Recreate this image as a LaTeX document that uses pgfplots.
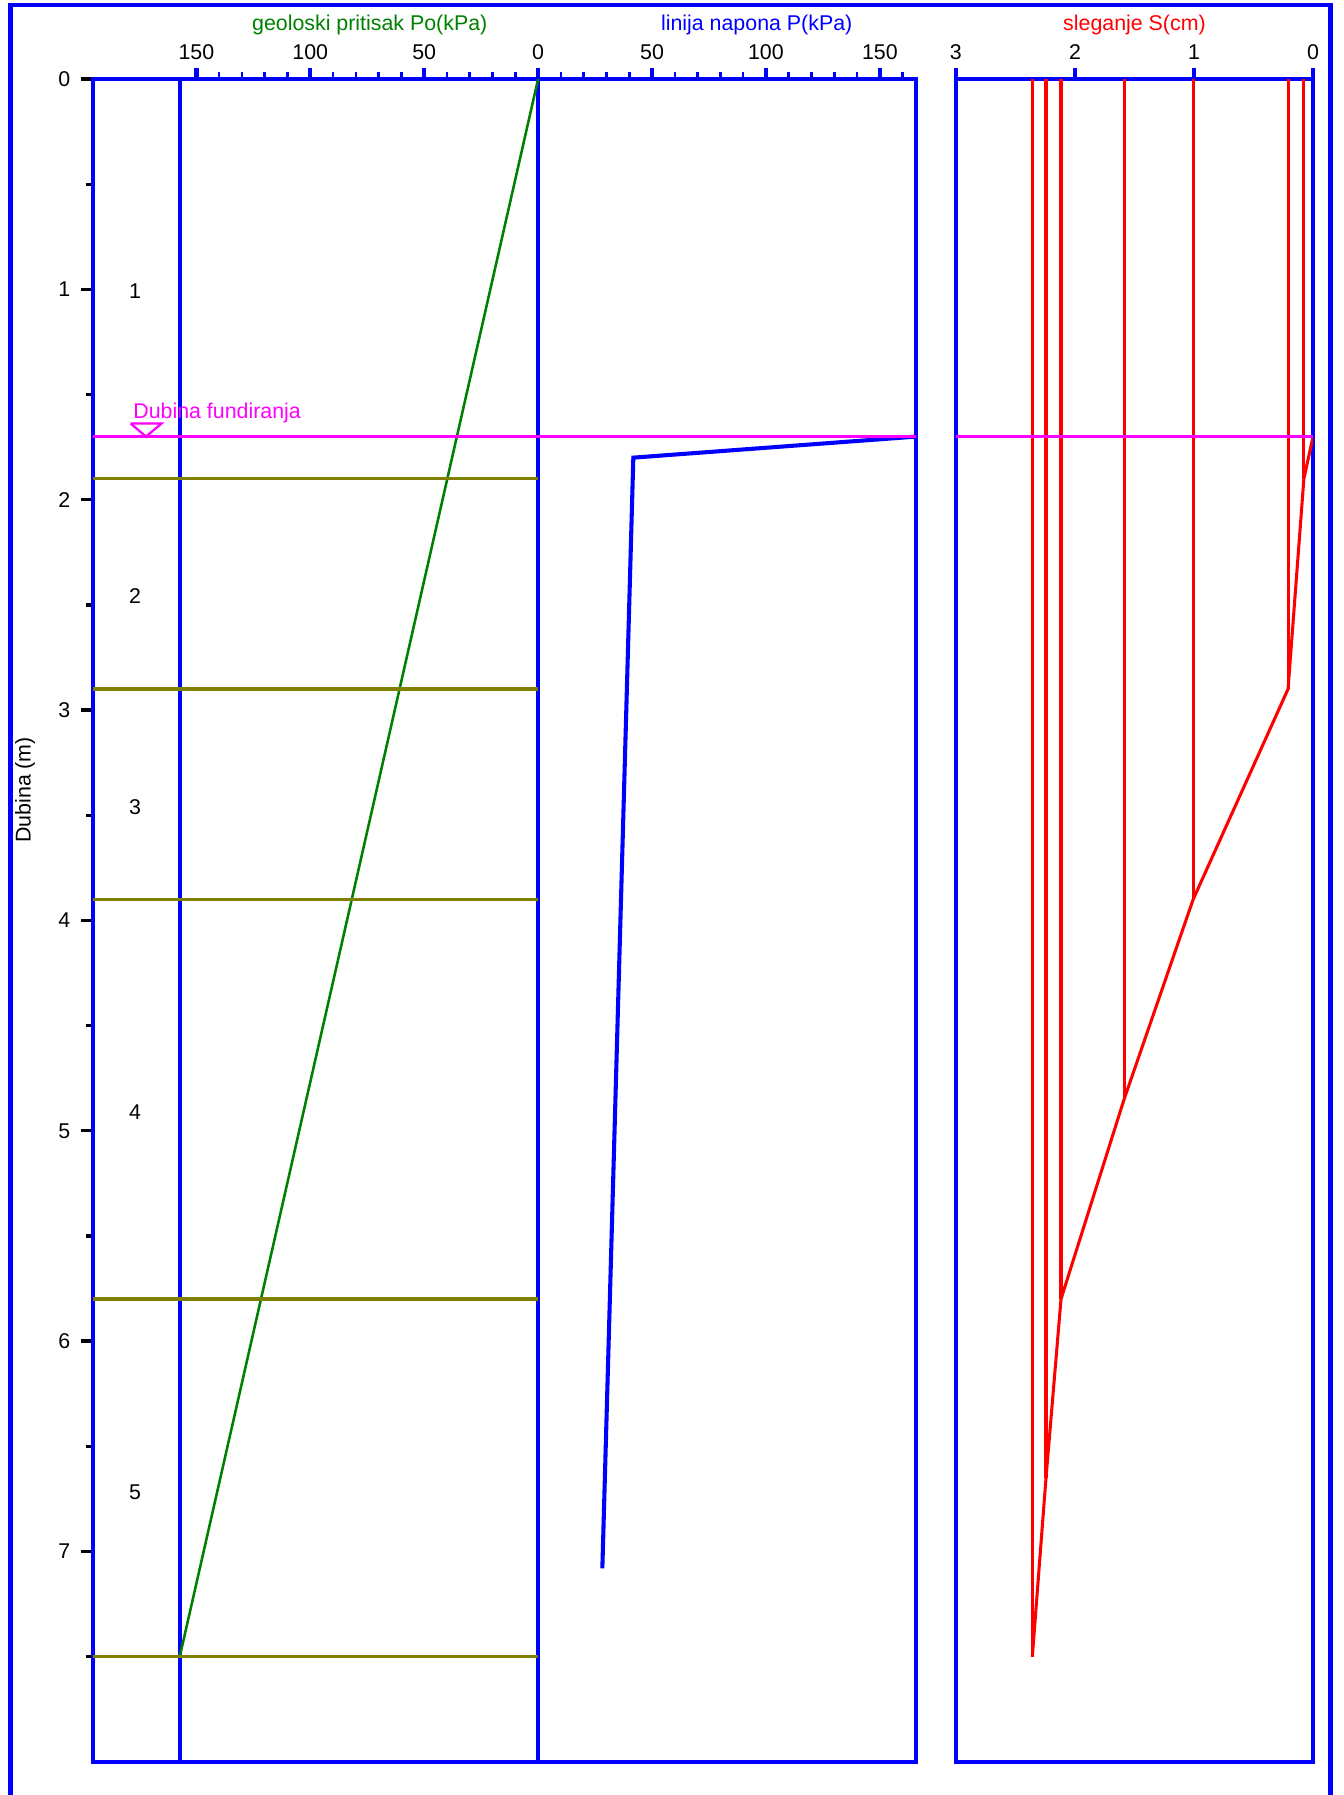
\documentclass[border=0pt]{standalone}
\usepackage{pgfplots}
\pgfplotsset{compat=1.18}
\usepackage{fontspec}
\setmainfont{Liberation Sans}
\definecolor{dgreen}{RGB}{0,128,0}
\definecolor{olivec}{RGB}{128,128,0}
\definecolor{mag}{RGB}{255,0,255}
\pgfplotsset{
  common/.style={
    scale only axis, height=661.5pt, ymin=0, ymax=8, y dir=reverse,
    axis line style={blue, line width=1.7pt},
    tick align=outside,
    xtick pos=right, xticklabel pos=right,
    major tick length=4.5pt, minor tick length=2.7pt,
    every major x tick/.append style={blue, line width=1.7pt},
    every minor x tick/.append style={blue, line width=1pt},
    tick label style={font=\fontsize{8.4}{10}\selectfont},
    /pgf/number format/assume math mode=true,
  }
}
\begin{document}
\fontsize{8.4}{10}\selectfont
\begin{tikzpicture}[font=\fontsize{8.4}{10}\selectfont]
\useasboundingbox (0,0) rectangle (528.3pt,-705.6pt);
\clip (0,0) rectangle (528.3pt,-705.6pt);
\begin{scope}[x=0.45pt,y=-0.45pt]
\draw[blue, line width=1.8pt] (9.2,1700) -- (9.2,4.4) -- (1162,4.4) -- (1162,1700);
\node[dgreen] at (323,22) {geoloski pritisak Po(kPa)};
\node[blue] at (661,22) {linija napona P(kPa)};
\node[red] at (991,22) {sleganje S(cm)};
\node[rotate=90] at (22,690) {Dubina (m)};
\end{scope}

\begin{axis}[common,
  at={(36.45pt,-31.05pt)}, anchor=north west, width=323.55pt,
  xmin=-195.5, xmax=165.8,
  xtick={-150,-100,-50,0,50,100,150},
  xticklabels={150,100,50,0,50,100,150},
  minor xtick={-140,-130,...,160},
  ytick={0,1,...,7}, minor ytick={0.5,1.5,...,7.5},
  ytick pos=left, yticklabel pos=left,
  yticklabel style={xshift=-1.3pt},
  every major y tick/.append style={black, line width=1.3pt},
  every minor y tick/.append style={black, line width=1.3pt},
]
\addplot[blue, line width=1.7pt] coordinates {(-157.3,0) (-157.3,8)};
\addplot[blue, line width=1.7pt] coordinates {(0,0) (0,8)};
\addplot[dgreen, line width=1pt] coordinates {(0,0) (-157.3,7.5)};
\addplot[olivec, line width=1.3pt] coordinates {(-195.5,1.9) (0,1.9)};
\addplot[olivec, line width=1.3pt] coordinates {(-195.5,2.9) (0,2.9)};
\addplot[olivec, line width=1.3pt] coordinates {(-195.5,3.9) (0,3.9)};
\addplot[olivec, line width=1.3pt] coordinates {(-195.5,5.8) (0,5.8)};
\addplot[olivec, line width=1.3pt] coordinates {(-195.5,7.5) (0,7.5)};
\addplot[blue, line width=1.6pt] coordinates {(165.8,1.7) (41.8,1.8) (28.2,7.08)};
\addplot[mag, line width=0.9pt] coordinates {(-195.5,1.7) (165.8,1.7)};
\addplot[mag, line width=0.9pt] coordinates {(-178.9,1.6375) (-165.3,1.6375) (-172.1,1.7) (-178.9,1.6375)};
\node[mag, anchor=base west, inner sep=0pt] at (axis cs:-177.9,1.614) {Dubina fundiranja};
\node at (axis cs:-176.9,1.01) {1};
\node at (axis cs:-176.9,2.46) {2};
\node at (axis cs:-176.9,3.46) {3};
\node at (axis cs:-176.9,4.91) {4};
\node at (axis cs:-176.9,6.72) {5};
\end{axis}

\begin{axis}[common,
  at={(375.75pt,-31.05pt)}, anchor=north west, width=140.4pt,
  xmin=0, xmax=3, x dir=reverse,
  xtick={0,1,2,3}, minor xtick={}, ytick=\empty,
]
\addplot[red, line width=1.2pt] coordinates {(0.077,0) (0.077,1.9)};
\addplot[red, line width=1.2pt] coordinates {(0.21,0) (0.21,2.9)};
\addplot[red, line width=1.2pt] coordinates {(1.007,0) (1.007,3.9)};
\addplot[red, line width=1.2pt] coordinates {(1.587,0) (1.587,4.85)};
\addplot[red, line width=1.2pt] coordinates {(2.117,0) (2.117,5.8)};
\addplot[red, line width=1.2pt] coordinates {(2.243,0) (2.243,6.65)};
\addplot[red, line width=1.2pt] coordinates {(2.358,0) (2.358,7.5)};
\addplot[red, line width=1.2pt] coordinates {(0,1.7) (0.077,1.9) (0.21,2.9) (1.007,3.9) (1.587,4.85) (2.117,5.8) (2.243,6.65) (2.358,7.5)};
\addplot[mag, line width=0.9pt] coordinates {(3,1.7) (0,1.7)};
\end{axis}
\end{tikzpicture}
\end{document}
